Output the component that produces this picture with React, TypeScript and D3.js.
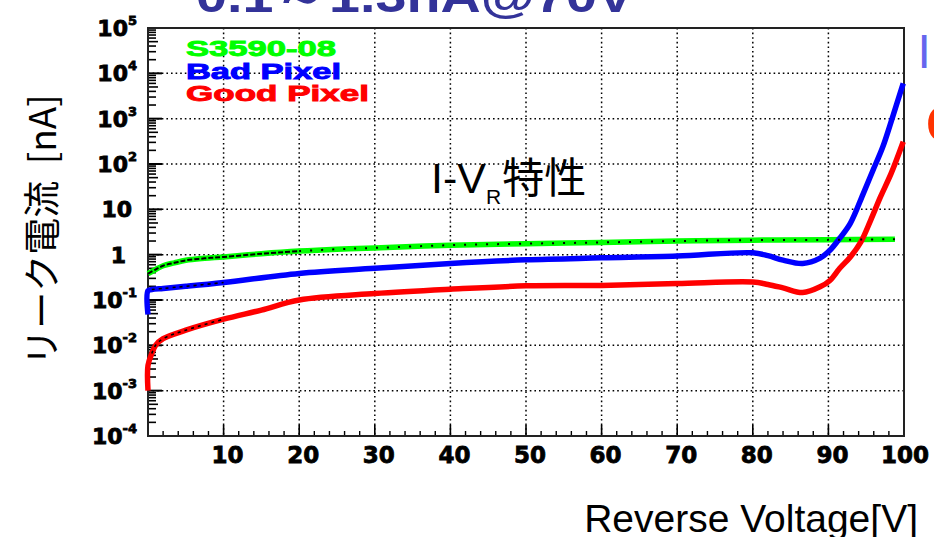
import React from "react";
import * as d3 from "d3";

// ---- data ----
const greenV = [0, 1, 2, 3.5, 5, 7.5, 10, 15, 20, 25, 30, 40, 50, 60, 70, 80, 90, 98.8];
const greenI = [0.38, 0.47, 0.57, 0.66, 0.75, 0.83, 0.89, 1.05, 1.2, 1.32, 1.41, 1.62, 1.75, 1.86, 2.0, 2.09, 2.12, 2.2];

const blueV = [0, 0, 0.5, 2, 5, 10, 20, 30, 40, 50, 60, 70, 80, 82, 84, 86.6, 88.9, 90.2, 91.5, 92.9, 94.6, 95.9, 97.2, 98.5, 99.9];
const blueI = [0.048, 0.16, 0.17, 0.18, 0.2, 0.243, 0.385, 0.5, 0.64, 0.77, 0.85, 0.93, 1.1, 0.95, 0.76, 0.64, 0.84, 1.25, 2.3, 4.9, 22, 73, 240, 1100, 6000];

const redV = [0, 0, 0.5, 1, 2, 5, 10, 15, 20, 30, 40, 50, 60, 70, 80, 82, 84, 86.6, 88.9, 90.2, 91.5, 92.9, 94.3, 95.6, 96.9, 98.3, 99.9];
const redI = [0.001, 0.0036, 0.0066, 0.01, 0.014, 0.0216, 0.0377, 0.06, 0.1, 0.139, 0.173, 0.205, 0.21, 0.23, 0.25, 0.22, 0.185, 0.146, 0.195, 0.27, 0.5, 0.89, 1.92, 5.8, 19, 62, 310];

const xTicks = [10, 20, 30, 40, 50, 60, 70, 80, 90, 100];
const yExponents = [-4, -3, -2, -1, 0, 1, 2, 3, 4, 5];

const legendLabels = ["S3590-08", "Bad Pixel", "Good Pixel"];
const legendColors = ["#00ff00", "#0000ff", "#ff0000"];

const titleText = "0.1～1.3nA@70V";
const xTitle = "Reverse Voltage[V]";
const yTitle = "リーク電流 [nA]";

type Pt = [number, number];
const zip = (v: number[], i: number[]): Pt[] => v.map((x, k) => [x, i[k]]);

export default function App() {
  const W = 934, H = 537;
  const L = 148, R = 904, T = 28, B = 436;
  const x = d3.scaleLinear().domain([0, 100]).range([L, R]);
  const y = d3.scaleLog().domain([1e-4, 1e5]).range([B, T]);

  const line = d3
    .line<Pt>()
    .x((d) => x(d[0]))
    .y((d) => y(d[1]))
    .curve(d3.curveCatmullRom.alpha(0.5));

  const series = [
    { pts: zip(greenV, greenI), color: legendColors[0] },
    { pts: zip(blueV, blueI), color: legendColors[1] },
    { pts: zip(redV, redI), color: legendColors[2] },
  ];

  const gridX = xTicks.filter((t) => t < 100);
  const gridY = yExponents.filter((e) => e > -4 && e < 5).map((e) => Math.pow(10, e));
  const minorY: number[] = [];
  for (let e = -4; e < 5; e++) for (let k = 2; k <= 9; k++) minorY.push(k * Math.pow(10, e));
  const minorX: number[] = d3.range(2, 100, 2).filter((v) => v % 10 !== 0);

  const dot = "1.6,3";
  const numFam = "DejaVu Sans, sans-serif";

  return (
    <svg width={W} height={H} style={{ position: "absolute", left: 0, top: 0, background: "#fff" }}>
      <rect x={0} y={0} width={W} height={H} fill="#fff" />
      {/* cut-off title */}
      <text x={196} y={12} fontFamily="Liberation Sans, Arial, sans-serif" fontWeight="bold" fontSize={46} fill="#333399" textLength={438} lengthAdjust="spacingAndGlyphs">
        {titleText}
      </text>
      {/* cut-off right side glyphs */}
      <text x={917.5} y={68} fontFamily="Liberation Sans, Arial, sans-serif" fontSize={48} fill="#6666ee">I</text>
      <text x={926} y={142} fontFamily="Liberation Sans, Arial, sans-serif" fontWeight="bold" fontSize={52} fill="#ff3300">C</text>

      {/* grid */}
      {gridX.map((v) => (
        <line key={"gx" + v} x1={x(v)} x2={x(v)} y1={T} y2={B} stroke="#000" strokeWidth={1.5} strokeDasharray={dot} />
      ))}
      {gridY.map((v) => (
        <line key={"gy" + v} x1={L} x2={R} y1={y(v)} y2={y(v)} stroke="#000" strokeWidth={1.5} strokeDasharray={dot} />
      ))}

      {/* ticks */}
      {yExponents.map((e) => (
        <line key={"my" + e} x1={L} x2={L + 14} y1={y(Math.pow(10, e))} y2={y(Math.pow(10, e))} stroke="#000" strokeWidth={2} />
      ))}
      {minorY.map((v, i) => (
        <line key={"ny" + i} x1={L} x2={L + (Math.round(v / Math.pow(10, Math.floor(Math.log10(v) + 1e-9))) === 5 ? 10 : 8)} y1={y(v)} y2={y(v)} stroke="#000" strokeWidth={1.6} />
      ))}
      {gridX.map((v) => (
        <line key={"mx" + v} x1={x(v)} x2={x(v)} y1={B} y2={B - 11} stroke="#000" strokeWidth={1.6} />
      ))}
      {minorX.map((v) => (
        <line key={"nx" + v} x1={x(v)} x2={x(v)} y1={B} y2={B - 5} stroke="#000" strokeWidth={1.4} />
      ))}

      {/* frame */}
      <rect x={L} y={T} width={R - L} height={B - T} fill="none" stroke="#222" strokeWidth={2} />

      {/* curves */}
      {series.map((s, i) => (
        <path key={"s" + i} d={line(s.pts) || ""} fill="none" stroke={s.color} strokeWidth={5.5} strokeLinejoin="round" strokeLinecap="butt" />
      ))}
      {/* black marker overlays */}
      <path d={line(series[0].pts.filter((p) => p[0] <= 20)) || ""} fill="none" stroke="#000" strokeWidth={2} strokeDasharray="5,2" />
      <path d={line(series[0].pts.filter((p) => p[0] >= 20)) || ""} fill="none" stroke="#000" strokeWidth={2} strokeDasharray="2,9" />
      <path d={line(series[1].pts.filter((p) => p[0] >= 0.5 && p[0] <= 10)) || ""} fill="none" stroke="#000" strokeWidth={1.6} strokeDasharray="3,4" />
      <path d={line(series[2].pts.filter((p) => p[0] >= 0.5 && p[0] <= 10)) || ""} fill="none" stroke="#000" strokeWidth={1.6} strokeDasharray="3,4" />

      {/* legend */}
      {legendLabels.map((lab, i) => (
        <text key={"lg" + i} x={186} y={56 + i * 22.5} fontFamily="Liberation Sans, Arial, sans-serif" fontWeight="bold" fontSize={22} fill={legendColors[i]} stroke={legendColors[i]} strokeWidth={0.9} textLength={[150, 155, 183][i]} lengthAdjust="spacingAndGlyphs">
          {lab}
        </text>
      ))}

      {/* y tick labels */}
      {yExponents.map((e) => {
        const yy = y(Math.pow(10, e));
        const common = { fontFamily: numFam, fontWeight: "bold", fontSize: 22, stroke: "#000", strokeWidth: 0.8, textAnchor: "end" as const };
        if (e === 0) return <text key={"yl" + e} x={126} y={yy + 8} {...common}>1</text>;
        if (e === 1) return <text key={"yl" + e} x={132} y={yy + 8} {...common}>10</text>;
        return (
          <text key={"yl" + e} x={137} y={yy + 8} {...common}>
            10<tspan fontSize={13} dy={-11}>{e < 0 ? "-" + Math.abs(e) : String(e)}</tspan>
          </text>
        );
      })}

      {/* x tick labels */}
      {xTicks.map((v) => (
        <text key={"xl" + v} x={x(v) + (v === 100 ? 1 : 4)} y={463} textAnchor="middle" fontFamily={numFam} fontWeight="bold" fontSize={23} stroke="#000" strokeWidth={0.8}>
          {v}
        </text>
      ))}

      {/* annotation */}
      <text x={431} y={193} fontFamily="Liberation Sans, Arial, sans-serif" fontSize={43} fill="#000">
        I-V
        <tspan fontSize={21} dy={11}>R</tspan>
        <tspan fontFamily="Noto Sans CJK JP, sans-serif" fontSize={42} dy={-11} dx={1}>特性</tspan>
      </text>

      {/* axis titles */}
      <text x={918} y={532} textAnchor="end" fontFamily="Liberation Sans, Arial, sans-serif" fontSize={39} fill="#000">
        {xTitle}
      </text>
      <text transform="translate(40,230) rotate(-90)" textAnchor="middle" dominantBaseline="central" fontFamily="Noto Sans CJK JP, sans-serif" fontSize={37} fill="#000" style={{ whiteSpace: "pre" }}>
        {"リーク電流  [nA]"}
      </text>
    </svg>
  );
}
